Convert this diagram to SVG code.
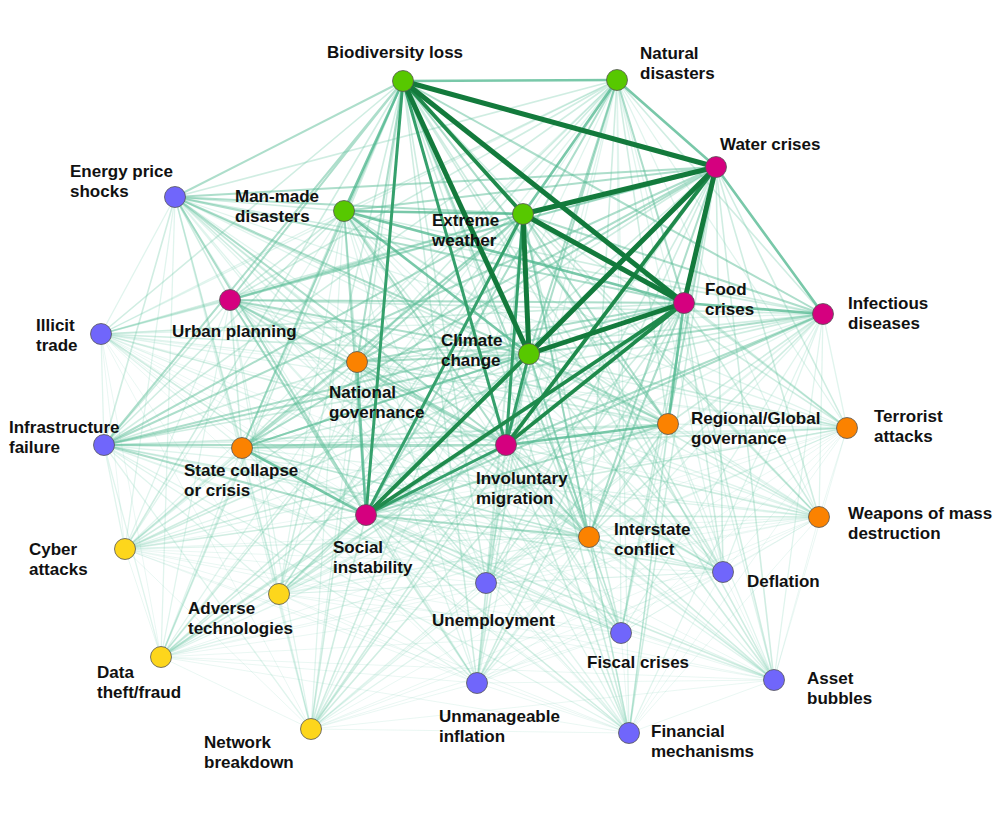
<svg xmlns="http://www.w3.org/2000/svg" width="1008" height="813" viewBox="0 0 1008 813">
<style>
.c path{fill:none}
.e0{stroke:#7fcfb3;stroke-opacity:.16;stroke-width:1}
.e1{stroke:#7fcfb3;stroke-opacity:.24;stroke-width:1.3}
.e2{stroke:#6cc6a6;stroke-opacity:.32;stroke-width:1.6}
.e3{stroke:#5bbd98;stroke-opacity:.5;stroke-width:2}
.e4{stroke:#4cb58c;stroke-opacity:.75;stroke-width:2.6}
.m{stroke:#35a06c;stroke-width:3}
.mp{stroke:#1f8a4c;stroke-width:3.8}
.t{stroke:#137a3c;stroke-width:5}
circle{stroke:#555;stroke-width:.8}
.g{fill:#57c800}.r{fill:#d5007f}.o{fill:#fb8200}.b{fill:#7066fb}.y{fill:#fdd61c}
text{font-family:"Liberation Sans",Arial,Helvetica,sans-serif;font-weight:700;font-size:17px;fill:#111}
</style>
<rect width="1008" height="813" fill="#fff"/>
<g id="connectors" class="c">
<g class="e0">
<path d="M101 334L847 428M101 334L819 517M101 334L125 549M101 334L279 594M101 334L486 583M101 334L723 572M101 334L621 633M101 334L161 657M101 334L774 680M101 334L477 683M101 334L311 729M101 334L629 733"/>
<path d="M847 428L819 517M847 428L125 549M847 428L279 594M847 428L486 583M847 428L723 572M847 428L621 633M847 428L161 657M847 428L774 680M847 428L477 683M847 428L311 729M847 428L629 733"/>
<path d="M819 517L125 549M819 517L279 594M819 517L486 583M819 517L723 572M819 517L621 633M819 517L161 657M819 517L774 680M819 517L477 683M819 517L311 729M819 517L629 733"/>
<path d="M125 549L279 594M125 549L486 583M125 549L723 572M125 549L621 633M125 549L161 657M125 549L774 680M125 549L477 683M125 549L311 729M125 549L629 733"/>
<path d="M279 594L486 583M279 594L723 572M279 594L621 633M279 594L161 657M279 594L774 680M279 594L477 683M279 594L311 729M279 594L629 733"/>
<path d="M486 583L723 572M486 583L621 633M486 583L161 657M486 583L774 680M486 583L477 683M486 583L311 729M486 583L629 733"/>
<path d="M723 572L621 633M723 572L161 657M723 572L774 680M723 572L477 683M723 572L311 729M723 572L629 733"/>
<path d="M621 633L161 657M621 633L774 680M621 633L477 683M621 633L311 729M621 633L629 733"/>
<path d="M161 657L774 680M161 657L477 683M161 657L311 729M161 657L629 733"/>
<path d="M774 680L477 683M774 680L311 729M774 680L629 733"/>
<path d="M477 683L311 729M477 683L629 733"/>
<path d="M311 729L629 733"/>
</g>
<g class="e1">
<path d="M617 80L101 334M617 80L847 428M617 80L819 517M617 80L125 549M617 80L279 594M617 80L486 583M617 80L723 572M617 80L621 633M617 80L161 657M617 80L774 680M617 80L477 683M617 80L311 729M617 80L629 733"/>
<path d="M344 211L101 334M344 211L847 428M344 211L819 517M344 211L125 549M344 211L279 594M344 211L486 583M344 211L723 572M344 211L621 633M344 211L161 657M344 211L774 680M344 211L477 683M344 211L311 729M344 211L629 733"/>
<path d="M230 300L101 334M230 300L847 428M230 300L819 517M230 300L125 549M230 300L279 594M230 300L486 583M230 300L723 572M230 300L621 633M230 300L161 657M230 300L774 680M230 300L477 683M230 300L311 729M230 300L629 733"/>
<path d="M357 362L101 334M357 362L847 428M357 362L819 517M357 362L125 549M357 362L279 594M357 362L486 583M357 362L723 572M357 362L621 633M357 362L161 657M357 362L774 680M357 362L477 683M357 362L311 729M357 362L629 733"/>
<path d="M668 424L101 334M668 424L847 428M668 424L819 517M668 424L125 549M668 424L279 594M668 424L486 583M668 424L723 572M668 424L621 633M668 424L161 657M668 424L774 680M668 424L477 683M668 424L311 729M668 424L629 733"/>
<path d="M823 314L101 334M823 314L847 428M823 314L819 517M823 314L125 549M823 314L279 594M823 314L486 583M823 314L723 572M823 314L621 633M823 314L161 657M823 314L774 680M823 314L477 683M823 314L311 729M823 314L629 733"/>
<path d="M242 448L101 334M242 448L847 428M242 448L819 517M242 448L125 549M242 448L279 594M242 448L486 583M242 448L723 572M242 448L621 633M242 448L161 657M242 448L774 680M242 448L477 683M242 448L311 729M242 448L629 733"/>
<path d="M175 197L101 334M175 197L847 428M175 197L819 517M175 197L125 549M175 197L279 594M175 197L486 583M175 197L723 572M175 197L621 633M175 197L161 657M175 197L774 680M175 197L477 683M175 197L311 729M175 197L629 733"/>
<path d="M104 445L101 334M104 445L847 428M104 445L819 517M104 445L125 549M104 445L279 594M104 445L486 583M104 445L723 572M104 445L621 633M104 445L161 657M104 445L774 680M104 445L477 683M104 445L311 729M104 445L629 733"/>
<path d="M589 537L101 334M589 537L847 428M589 537L819 517M589 537L125 549M589 537L279 594M589 537L486 583M589 537L723 572M589 537L621 633M589 537L161 657M589 537L774 680M589 537L477 683M589 537L311 729M589 537L629 733"/>
</g>
<g class="e2">
<path d="M403 81L101 334M403 81L847 428M403 81L819 517M403 81L125 549M403 81L279 594M403 81L486 583M403 81L723 572M403 81L621 633M403 81L161 657M403 81L774 680M403 81L477 683M403 81L311 729M403 81L629 733"/>
<path d="M716 167L101 334M716 167L847 428M716 167L819 517M716 167L125 549M716 167L279 594M716 167L486 583M716 167L723 572M716 167L621 633M716 167L161 657M716 167L774 680M716 167L477 683M716 167L311 729M716 167L629 733"/>
<path d="M523 214L101 334M523 214L847 428M523 214L819 517M523 214L125 549M523 214L279 594M523 214L486 583M523 214L723 572M523 214L621 633M523 214L161 657M523 214L774 680M523 214L477 683M523 214L311 729M523 214L629 733"/>
<path d="M684 303L101 334M684 303L847 428M684 303L819 517M684 303L125 549M684 303L279 594M684 303L486 583M684 303L723 572M684 303L621 633M684 303L161 657M684 303L774 680M684 303L477 683M684 303L311 729M684 303L629 733"/>
<path d="M529 354L101 334M529 354L847 428M529 354L819 517M529 354L125 549M529 354L279 594M529 354L486 583M529 354L723 572M529 354L621 633M529 354L161 657M529 354L774 680M529 354L477 683M529 354L311 729M529 354L629 733"/>
<path d="M506 445L101 334M506 445L847 428M506 445L819 517M506 445L125 549M506 445L279 594M506 445L486 583M506 445L723 572M506 445L621 633M506 445L161 657M506 445L774 680M506 445L477 683M506 445L311 729M506 445L629 733"/>
<path d="M366 515L101 334M366 515L847 428M366 515L819 517M366 515L125 549M366 515L279 594M366 515L486 583M366 515L723 572M366 515L621 633M366 515L161 657M366 515L774 680M366 515L477 683M366 515L311 729M366 515L629 733"/>
<path d="M617 80L344 211M617 80L230 300M617 80L357 362M617 80L668 424M617 80L823 314M617 80L242 448M617 80L175 197M617 80L104 445M617 80L589 537"/>
<path d="M344 211L230 300M344 211L357 362M344 211L668 424M344 211L823 314M344 211L242 448M344 211L175 197M344 211L104 445M344 211L589 537"/>
<path d="M230 300L357 362M230 300L668 424M230 300L823 314M230 300L242 448M230 300L175 197M230 300L104 445M230 300L589 537"/>
<path d="M357 362L668 424M357 362L823 314M357 362L242 448M357 362L175 197M357 362L104 445M357 362L589 537"/>
<path d="M668 424L823 314M668 424L242 448M668 424L175 197M668 424L104 445M668 424L589 537"/>
<path d="M823 314L242 448M823 314L175 197M823 314L104 445M823 314L589 537"/>
<path d="M242 448L175 197M242 448L104 445M242 448L589 537"/>
<path d="M175 197L104 445M175 197L589 537"/>
<path d="M104 445L589 537"/>
</g>
<g class="e3">
<path d="M403 81L230 300M403 81L357 362M403 81L668 424M403 81L823 314M403 81L242 448M403 81L175 197M403 81L104 445M403 81L589 537"/>
<path d="M716 167L344 211M716 167L230 300M716 167L357 362M716 167L668 424M716 167L242 448M716 167L175 197M716 167L104 445M716 167L589 537"/>
<path d="M523 214L230 300M523 214L357 362M523 214L668 424M523 214L823 314M523 214L242 448M523 214L175 197M523 214L104 445M523 214L589 537"/>
<path d="M684 303L617 80M684 303L230 300M684 303L357 362M684 303L242 448M684 303L175 197M684 303L104 445M684 303L589 537"/>
<path d="M529 354L617 80M529 354L230 300M529 354L357 362M529 354L668 424M529 354L823 314M529 354L242 448M529 354L175 197M529 354L104 445M529 354L589 537"/>
<path d="M506 445L617 80M506 445L344 211M506 445L230 300M506 445L357 362M506 445L823 314M506 445L242 448M506 445L175 197M506 445L104 445M506 445L589 537"/>
<path d="M366 515L617 80M366 515L344 211M366 515L230 300M366 515L668 424M366 515L823 314M366 515L175 197M366 515L104 445M366 515L589 537"/>
</g>
<g class="e4">
<path d="M403 81L617 80M403 81L344 211"/>
<path d="M716 167L617 80M716 167L823 314"/>
<path d="M523 214L617 80M523 214L344 211"/>
<path d="M684 303L823 314M684 303L668 424M684 303L344 211"/>
<path d="M529 354L344 211"/>
<path d="M506 445L668 424"/>
<path d="M366 515L357 362M366 515L242 448"/>
</g>
<g class="m">
<path d="M403 81L506 445"/>
<path d="M403 81L366 515"/>
<path d="M716 167L366 515"/>
<path d="M523 214L506 445"/>
<path d="M523 214L366 515"/>
<path d="M529 354L506 445"/>
<path d="M506 445L366 515"/>
</g>
<g class="mp">
<path d="M403 81L523 214"/>
<path d="M716 167L506 445"/>
<path d="M684 303L506 445"/>
<path d="M684 303L366 515"/>
<path d="M366 515L529 354"/>
</g>
<g class="t">
<path d="M403 81L716 167"/>
<path d="M403 81L684 303"/>
<path d="M403 81L529 354"/>
<path d="M716 167L523 214"/>
<path d="M716 167L684 303"/>
<path d="M716 167L529 354"/>
<path d="M523 214L684 303"/>
<path d="M523 214L529 354"/>
<path d="M684 303L529 354"/>
</g>
</g>
<g id="n-biodiversity-loss"><circle class="g" cx="403" cy="81" r="10.5"/><text x="327" y="58">Biodiversity loss</text></g>
<g id="n-natural-disasters"><circle class="g" cx="617" cy="80" r="10.5"/><text x="640" y="59">Natural</text><text x="640" y="79">disasters</text></g>
<g id="n-water-crises"><circle class="r" cx="716" cy="167" r="10.5"/><text x="720" y="150">Water crises</text></g>
<g id="n-energy-price-shocks"><circle class="b" cx="175" cy="197" r="10.5"/><text x="70" y="177">Energy price</text><text x="70" y="197">shocks</text></g>
<g id="n-man-made-disasters"><circle class="g" cx="344" cy="211" r="10.5"/><text x="235" y="202">Man-made</text><text x="235" y="222">disasters</text></g>
<g id="n-extreme-weather"><circle class="g" cx="523" cy="214" r="10.5"/><text x="432" y="226">Extreme</text><text x="432" y="246">weather</text></g>
<g id="n-food-crises"><circle class="r" cx="684" cy="303" r="10.5"/><text x="705" y="295">Food</text><text x="705" y="315">crises</text></g>
<g id="n-infectious-diseases"><circle class="r" cx="823" cy="314" r="10.5"/><text x="848" y="309">Infectious</text><text x="848" y="329">diseases</text></g>
<g id="n-urban-planning"><circle class="r" cx="230" cy="300" r="10.5"/><text x="172" y="337">Urban planning</text></g>
<g id="n-illicit-trade"><circle class="b" cx="101" cy="334" r="10.5"/><text x="36" y="331">Illicit</text><text x="36" y="351">trade</text></g>
<g id="n-climate-change"><circle class="g" cx="529" cy="354" r="10.5"/><text x="441" y="346">Climate</text><text x="441" y="366">change</text></g>
<g id="n-national-governance"><circle class="o" cx="357" cy="362" r="10.5"/><text x="329" y="398">National</text><text x="329" y="418">governance</text></g>
<g id="n-regional-global-governance"><circle class="o" cx="668" cy="424" r="10.5"/><text x="691" y="424">Regional/Global</text><text x="691" y="444">governance</text></g>
<g id="n-terrorist-attacks"><circle class="o" cx="847" cy="428" r="10.5"/><text x="874" y="422">Terrorist</text><text x="874" y="442">attacks</text></g>
<g id="n-infrastructure-failure"><circle class="b" cx="104" cy="445" r="10.5"/><text x="9" y="433">Infrastructure</text><text x="9" y="453">failure</text></g>
<g id="n-state-collapse"><circle class="o" cx="242" cy="448" r="10.5"/><text x="184" y="476">State collapse</text><text x="184" y="496">or crisis</text></g>
<g id="n-involuntary-migration"><circle class="r" cx="506" cy="445" r="10.5"/><text x="476" y="484">Involuntary</text><text x="476" y="504">migration</text></g>
<g id="n-social-instability"><circle class="r" cx="366" cy="515" r="10.5"/><text x="333" y="553">Social</text><text x="333" y="573">instability</text></g>
<g id="n-interstate-conflict"><circle class="o" cx="589" cy="537" r="10.5"/><text x="614" y="535">Interstate</text><text x="614" y="555">conflict</text></g>
<g id="n-weapons-of-mass-destruction"><circle class="o" cx="819" cy="517" r="10.5"/><text x="848" y="519">Weapons of mass</text><text x="848" y="539">destruction</text></g>
<g id="n-cyber-attacks"><circle class="y" cx="125" cy="549" r="10.5"/><text x="29" y="555">Cyber</text><text x="29" y="575">attacks</text></g>
<g id="n-adverse-technologies"><circle class="y" cx="279" cy="594" r="10.5"/><text x="188" y="614">Adverse</text><text x="188" y="634">technologies</text></g>
<g id="n-unemployment"><circle class="b" cx="486" cy="583" r="10.5"/><text x="432" y="626">Unemployment</text></g>
<g id="n-deflation"><circle class="b" cx="723" cy="572" r="10.5"/><text x="747" y="587">Deflation</text></g>
<g id="n-fiscal-crises"><circle class="b" cx="621" cy="633" r="10.5"/><text x="587" y="668">Fiscal crises</text></g>
<g id="n-data-theft-fraud"><circle class="y" cx="161" cy="657" r="10.5"/><text x="97" y="678">Data</text><text x="97" y="698">theft/fraud</text></g>
<g id="n-asset-bubbles"><circle class="b" cx="774" cy="680" r="10.5"/><text x="807" y="684">Asset</text><text x="807" y="704">bubbles</text></g>
<g id="n-unmanageable-inflation"><circle class="b" cx="477" cy="683" r="10.5"/><text x="439" y="722">Unmanageable</text><text x="439" y="742">inflation</text></g>
<g id="n-network-breakdown"><circle class="y" cx="311" cy="729" r="10.5"/><text x="204" y="748">Network</text><text x="204" y="768">breakdown</text></g>
<g id="n-financial-mechanisms"><circle class="b" cx="629" cy="733" r="10.5"/><text x="651" y="737">Financial</text><text x="651" y="757">mechanisms</text></g>
</svg>
